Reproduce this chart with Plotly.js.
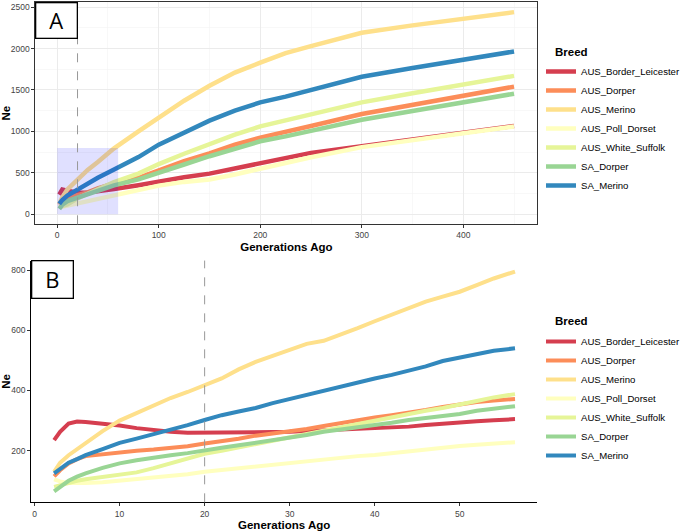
<!DOCTYPE html>
<html>
<head>
<meta charset="utf-8">
<script src="https://cdn.plot.ly/plotly-3.0.1.min.js"></script>
<style>html,body{margin:0;padding:0;background:#fff}#plot{width:685px;height:532px}</style>
</head>
<body>
<div id="plot"></div>
<script>
// Breeds and colours (legend order)
const breeds = ["AUS_Border_Leicester","AUS_Dorper","AUS_Merino","AUS_Poll_Dorset","AUS_White_Suffolk","SA_Dorper","SA_Merino"];
const colors = ["#D53E4F","#FC8D59","#FEE08B","#FFFFBF","#E6F598","#99D594","#3288BD"];
const legendTitle = "Breed";

// Panel A: all generations
const genA = [2, 5, 10, 20, 30, 40, 56, 80, 100, 125, 150, 175, 200, 225, 250, 300, 350, 400, 450];
const A_AUS_Border_Leicester = [235, 297, 284, 260, 263, 274, 305, 350, 395, 445, 490, 555, 620, 685, 740, 822, 900, 980, 1065];
const A_AUS_Dorper          = [115, 172, 197, 225, 263, 313, 372, 440, 530, 640, 735, 840, 925, 1000, 1065, 1210, 1320, 1430, 1540];
const A_AUS_Merino          = [125, 205, 300, 418, 535, 630, 795, 1000, 1170, 1370, 1550, 1710, 1830, 1945, 2030, 2190, 2280, 2355, 2440];
const A_AUS_Poll_Dorset     = [105, 92, 103, 130, 158, 186, 228, 285, 345, 390, 420, 480, 552, 620, 688, 810, 898, 978, 1060];
const A_AUS_White_Suffolk   = [80, 102, 119, 191, 246, 302, 388, 490, 605, 730, 850, 960, 1060, 1130, 1210, 1350, 1460, 1570, 1670];
const A_SA_Dorper           = [65, 114, 158, 202, 245, 285, 348, 420, 495, 600, 700, 795, 880, 940, 1010, 1140, 1245, 1350, 1455];
const A_SA_Merino           = [125, 172, 226, 302, 372, 440, 540, 690, 840, 990, 1130, 1250, 1350, 1420, 1500, 1660, 1765, 1870, 1965];

// Panel B: recent generations
const genB = [2.3, 3, 4, 5, 6, 8, 10, 12, 14, 16, 18, 20, 22, 24, 26, 28, 30, 32, 34, 36, 38, 40, 42, 44, 46, 48, 50, 52, 54, 56.5];
const B_AUS_Border_Leicester = [235,263,290,297,295,290,284,275,268,263,260,260,259,260,261,262,263,265,267,270,272,274,277,280,285,290,294,298,301,305];
const B_AUS_Dorper          = [115,135,158,172,182,188,196,200,204,209,215,224,231,240,250,257,263,272,282,292,302,310,318,325,335,345,355,362,367,372];
const B_AUS_Merino          = [130,160,185,205,228,265,300,324,350,375,395,418,440,470,495,515,535,555,565,585,607,630,652,675,695,712,728,750,772,795];
const B_AUS_Poll_Dorset     = [105,98,93,92,93,95,100,104,110,115,122,130,136,142,148,153,158,165,172,177,182,186,192,197,205,212,216,220,224,228];
const B_AUS_White_Suffolk   = [80,86,94,100,105,112,119,128,142,158,174,190,200,211,222,234,246,258,269,280,291,302,313,324,333,342,352,365,377,388];
const B_SA_Dorper           = [65,80,100,114,125,143,158,168,178,185,192,202,210,218,226,235,245,252,263,270,278,285,293,302,308,315,322,333,340,348];
const B_SA_Merino           = [125,140,160,172,185,205,226,240,255,268,285,302,318,330,342,358,372,386,400,413,425,440,452,466,480,498,510,522,532,540];

const seriesA = [A_AUS_Border_Leicester, A_AUS_Dorper, A_AUS_Merino, A_AUS_Poll_Dorset, A_AUS_White_Suffolk, A_SA_Dorper, A_SA_Merino];
const seriesB = [B_AUS_Border_Leicester, B_AUS_Dorper, B_AUS_Merino, B_AUS_Poll_Dorset, B_AUS_White_Suffolk, B_SA_Dorper, B_SA_Merino];

const traces = [];
breeds.forEach((b, i) => {
  traces.push({x: genA, y: seriesA[i], type: 'scatter', mode: 'lines', name: b,
    line: {color: colors[i], width: 4.5}, xaxis: 'x', yaxis: 'y', legend: 'legend', hoverinfo: 'skip'});
});
breeds.forEach((b, i) => {
  traces.push({x: genB, y: seriesB[i], type: 'scatter', mode: 'lines', name: b,
    line: {color: colors[i], width: 4}, xaxis: 'x2', yaxis: 'y2', legend: 'legend2', hoverinfo: 'skip'});
});

const tickFont = {family: 'Liberation Sans, Arial, sans-serif', size: 8.5, color: '#444'};
const titleFont = {family: 'Liberation Sans, Arial, sans-serif', size: 11.5, color: '#000', weight: 'bold'};
const legFont = {family: 'Liberation Sans, Arial, sans-serif', size: 9.6, color: '#000'};

const layout = {
  width: 685, height: 532,
  margin: {l: 0, r: 0, t: 0, b: 0},
  paper_bgcolor: '#fff', plot_bgcolor: '#fff',
  showlegend: true,
  xaxis: {domain: [0.0526, 0.7985], range: [-21.5, 473], anchor: 'y',
    tick0: 0, dtick: 100, ticks: 'outside', ticklen: 3, tickcolor: '#333', tickfont: tickFont,
    showline: true, mirror: true, linecolor: '#333', linewidth: 1,
    showgrid: true, gridcolor: '#ebebeb', gridwidth: 1, zeroline: false,
    minor: {dtick: 50, tick0: 0, showgrid: true, gridcolor: '#f3f3f3', gridwidth: 0.6},
    title: {text: 'Generations Ago', font: titleFont, standoff: 3}, automargin: false},
  yaxis: {domain: [0.5784, 0.9962], range: [-122, 2562], anchor: 'x',
    tick0: 0, dtick: 500, ticks: 'outside', ticklen: 3, tickcolor: '#333', tickfont: tickFont,
    showline: true, mirror: true, linecolor: '#333', linewidth: 1,
    showgrid: true, gridcolor: '#ebebeb', gridwidth: 1, zeroline: false,
    minor: {dtick: 250, tick0: 0, showgrid: true, gridcolor: '#f3f3f3', gridwidth: 0.6},
    title: {text: 'Ne', font: titleFont, standoff: 2}, automargin: false},
  xaxis2: {domain: [0.0463, 0.7981], range: [-0.4, 59.1], anchor: 'y2',
    tick0: 0, dtick: 10, ticks: 'outside', ticklen: 3, tickcolor: '#333', tickfont: tickFont,
    showline: true, mirror: false, linecolor: '#000', linewidth: 1,
    showgrid: false, zeroline: false,
    title: {text: 'Generations Ago', font: titleFont, standoff: 3}, automargin: false},
  yaxis2: {domain: [0.0558, 0.5102], range: [28.6, 831.5], anchor: 'x2',
    tick0: 0, dtick: 200, ticks: 'outside', ticklen: 3, tickcolor: '#333', tickfont: tickFont,
    showline: true, mirror: false, linecolor: '#000', linewidth: 1,
    showgrid: false, zeroline: false,
    title: {text: 'Ne', font: titleFont, standoff: 2}, automargin: false},
  legend: {x: 551/685, xanchor: 'left', y: 1 - 57/532, yanchor: 'top',
    font: legFont, bgcolor: 'rgba(0,0,0,0)', borderwidth: 0},
  legend2: {x: 551/685, xanchor: 'left', y: 1 - 327/532, yanchor: 'top',
    font: legFont, bgcolor: 'rgba(0,0,0,0)', borderwidth: 0},
  shapes: [
    {type: 'rect', xref: 'x', yref: 'y', x0: 0, x1: 60, y0: 0, y1: 800,
      fillcolor: 'rgba(0,0,255,0.12)', line: {width: 0}, layer: 'above'},
    {type: 'line', xref: 'x', yref: 'y domain', x0: 20, x1: 20, y0: 0, y1: 1,
      line: {color: '#999', width: 1, dash: 'dash'}, layer: 'above'},
    {type: 'line', xref: 'x2', yref: 'y2 domain', x0: 20, x1: 20, y0: 0, y1: 1,
      line: {color: '#999', width: 1, dash: 'dash'}, layer: 'above'}
  ],
  annotations: [
    {text: 'A', xref: 'paper', yref: 'paper', x: 36/685, y: 1 - 2/532, xanchor: 'left', yanchor: 'top',
      showarrow: false, width: 40, height: 34, borderwidth: 1.3, bordercolor: '#000', bgcolor: '#fff', borderpad: 0,
      font: {family: 'Open Sans, Liberation Sans, sans-serif', size: 22, color: '#000'}},
    {text: 'B', xref: 'paper', yref: 'paper', x: 32/685, y: 1 - 260/532, xanchor: 'left', yanchor: 'top',
      showarrow: false, width: 40, height: 36, borderwidth: 1.3, bordercolor: '#000', bgcolor: '#fff', borderpad: 0,
      font: {family: 'Open Sans, Liberation Sans, sans-serif', size: 22, color: '#000'}},
    {text: legendTitle, xref: 'paper', yref: 'paper', x: 563/685, y: 1 - 52/532, xanchor: 'left', yanchor: 'middle',
      showarrow: false, font: titleFont},
    {text: legendTitle, xref: 'paper', yref: 'paper', x: 563/685, y: 1 - 321/532, xanchor: 'left', yanchor: 'middle',
      showarrow: false, font: titleFont}
  ]
};

Plotly.newPlot('plot', traces, layout, {displayModeBar: false, staticPlot: true});
</script>
</body>
</html>
